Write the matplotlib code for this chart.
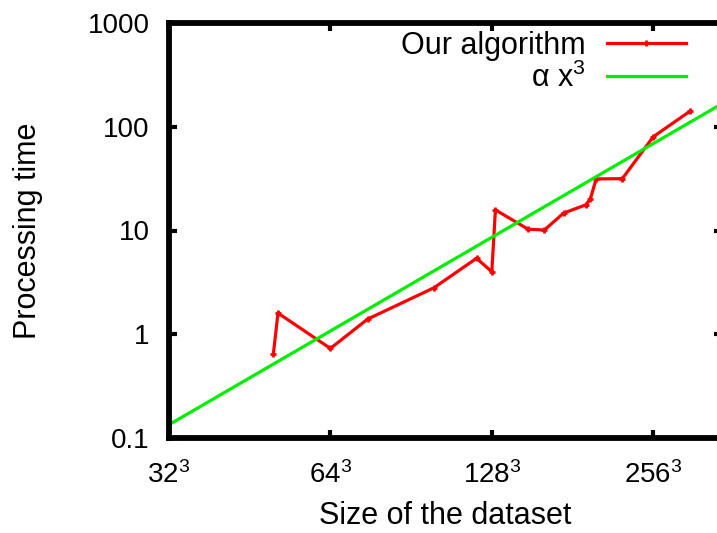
import numpy as np
import matplotlib
matplotlib.use("Agg")
import matplotlib.pyplot as plt

plt.rcParams['font.family'] = ['Liberation Sans', 'DejaVu Sans']
plt.rcParams['mathtext.default'] = 'regular'
plt.rcParams['mathtext.fontset'] = 'custom'
plt.rcParams['mathtext.rm'] = 'Liberation Sans'

# side length of the cubic dataset and processing time
sizes = [50.1, 51.1, 64, 75.1, 99.8, 119.9, 128, 130, 149.6, 160.4,
         174.2, 191.8, 195.4, 200.4, 224.2, 256, 300.3]
times = [0.65, 1.6, 0.73, 1.4, 2.8, 5.4, 4.0, 15.8, 10.3, 10.1,
         14.7, 17.7, 20.1, 31.4, 31.6, 80, 142]

alpha = 4.1e-6
fit_x = [32, 400]

xticks = [32, 64, 128, 256]
xtick_labels = ['$32^3$', '$64^3$', '$128^3$', '$256^3$']
yticks = [0.1, 1, 10, 100, 1000]
ytick_labels = ['0.1', '1', '10', '100', '1000']

fig = plt.figure(figsize=(7.17, 5.33), dpi=100)
ax = fig.add_axes([169/717, 95/533, 553/717, 415/533])

ax.plot(sizes, times, color='#ff0000', lw=2.3, marker='+', ms=5, mew=2,
        label='Our algorithm')
fx = np.array(fit_x, dtype=float)
ax.plot(fx, alpha * fx**3, color='#00ee00', lw=2.3, label='α x$^3$')

ax.set_xscale('log', base=2)
ax.set_yscale('log')
ax.set_xlim(32, 344)
ax.set_ylim(0.1, 1000)
ax.set_xticks(xticks)
ax.set_xticklabels(xtick_labels)
ax.set_yticks(yticks)
ax.set_yticklabels(ytick_labels)
ax.minorticks_off()

for s in ax.spines.values():
    s.set_linewidth(4.2)
ax.tick_params(direction='in', length=6, width=3, labelsize=20,
               top=True, right=True)
ax.tick_params(axis='y', pad=14)
ax.tick_params(axis='x', pad=17)

ax.set_xlabel('Size of the dataset', fontsize=22, labelpad=8)
ax.set_ylabel('Processing time', fontsize=22, labelpad=32)

leg = ax.legend(loc='upper right', bbox_to_anchor=(686/717, 502/533),
                bbox_transform=fig.transFigure, frameon=False,
                markerfirst=False, fontsize=22, handlelength=2.6,
                handletextpad=0.7, labelspacing=0.05, borderaxespad=0,
                borderpad=0)
for t in leg.get_texts():
    t.set_ha('right')

fig.savefig('out.png', dpi=100)
